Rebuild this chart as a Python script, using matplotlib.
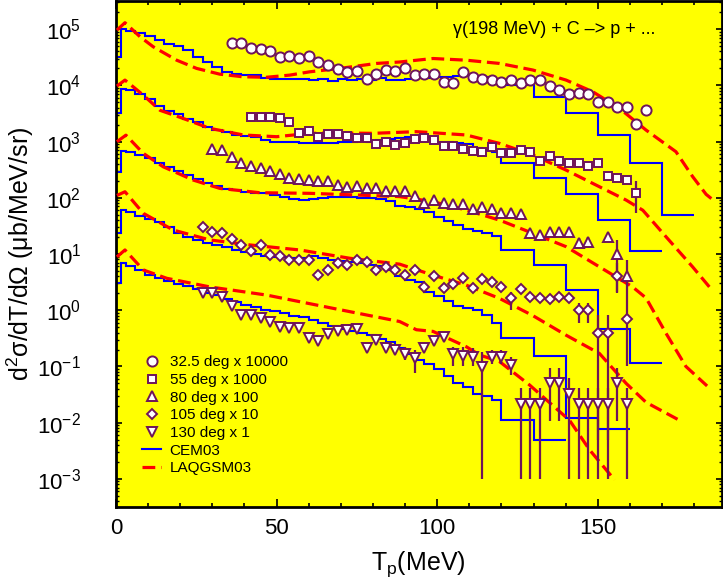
import numpy as np
import matplotlib
matplotlib.use('Agg')
import matplotlib.pyplot as plt
from matplotlib.ticker import MultipleLocator, LogLocator
from matplotlib.lines import Line2D
from matplotlib.legend_handler import HandlerLine2D

# gamma(198 MeV) + C -> p + X, proton spectra at 5 angles
# all numbers below are the unscaled values, scale factors are applied when drawing
angles = ['32.5', '55', '80', '105', '130']
scales = [10000, 1000, 100, 10, 1]

# ---- data points (T in MeV) ----
t_325 = np.arange(36, 166, 3)
y_325 = [5.57, 5.70, 4.66, 4.36, 4.12, 3.22, 3.31, 3.01, 3.31, 2.59,
         2.29, 1.92, 1.74, 1.77, 1.27, 1.58, 1.87, 1.82, 2.00, 1.52,
         1.58, 1.58, 1.16, 1.11, 1.74, 1.38, 1.27, 1.24, 1.16, 1.24,
         1.08, 1.24, 1.24, 0.97, 0.82, 0.69, 0.72, 0.69, 0.51, 0.498,
         0.406, 0.416, 0.205, 0.363]
err_325 = [(162, 0.16, 0.25)]

t_55 = np.arange(42, 163, 3)
y_55 = [2.69, 2.69, 2.69, 2.58, 2.19, 1.40, 1.54, 1.22, 1.34, 1.34,
        1.25, 1.17, 1.18, 0.903, 0.993, 0.867, 0.953, 1.10, 1.14, 1.06,
        0.843, 0.843, 0.726, 0.687, 0.660, 0.810, 0.632, 0.632, 0.706, 0.660,
        0.457, 0.552, 0.457, 0.409, 0.409, 0.367, 0.409, 0.244, 0.222, 0.207,
        0.123]
err_55 = [(153, 0.21, 0.28), (156, 0.19, 0.26), (159, 0.175, 0.245), (162, 0.053, 0.195)]

t_80 = [30, 33, 36, 39, 42, 45, 48, 51, 54, 57, 60, 63, 66, 69, 72, 75, 78, 81,
        84, 87, 90, 93, 96, 99, 102, 105, 108, 111, 114, 117, 120, 123, 126, 129,
        132, 135, 138, 141, 144, 147, 153, 156, 159]
y_80 = [7.26, 7.06, 5.24, 4.21, 3.72, 3.34, 3.03, 2.64, 2.22, 2.13,
        2.07, 2.00, 2.00, 1.69, 1.53, 1.62, 1.47, 1.47, 1.34, 1.34,
        1.31, 1.08, 0.82, 0.91, 0.80, 0.78, 0.78, 0.62, 0.69, 0.62,
        0.53, 0.53, 0.51, 0.233, 0.218, 0.25, 0.25, 0.25, 0.159, 0.166,
        0.203, 0.10, 0.040]
err_80 = [(144, 0.13, 0.19), (147, 0.14, 0.20), (156, 0.020, 0.18), (159, 0.001, 0.079)]

t_105 = np.arange(27, 160, 3)
y_105 = [3.06, 2.49, 2.34, 1.85, 1.45, 1.15, 1.45, 0.96, 0.92, 0.78,
         0.78, 0.78, 0.42, 0.52, 0.68, 0.64, 0.78, 0.73, 0.51, 0.58,
         0.52, 0.42, 0.52, 0.257, 0.407, 0.246, 0.293, 0.37, 0.246, 0.36,
         0.32, 0.257, 0.162, 0.24, 0.174, 0.162, 0.157, 0.174, 0.162, 0.10,
         0.10, 0.040, 0.040, 0.41, 0.071]
err_105 = [(123, 0.10, 0.21), (144, 0.060, 0.133), (147, 0.060, 0.133),
           (150, 0.0005, 0.083), (153, 0.0005, 0.083), (156, 0.21, 0.69)]

t_130 = np.arange(27, 160, 3)
y_130 = [2.05, 2.05, 1.69, 1.19, 0.82, 0.82, 0.72, 0.63, 0.51, 0.48,
         0.48, 0.32, 0.28, 0.38, 0.43, 0.45, 0.46, 0.21, 0.29, 0.21,
         0.20, 0.17, 0.14, 0.21, 0.28, 0.33, 0.167, 0.154, 0.149, 0.098,
         0.15, 0.15, 0.108, 0.0213, 0.0213, 0.0213, 0.0515, 0.0515, 0.032, 0.0213,
         0.0213, 0.0213, 0.0213, 0.0515, 0.0213]
err_130 = [(90, 0.13, 0.22), (93, 0.075, 0.20), (105, 0.10, 0.22), (108, 0.10, 0.22),
           (111, 0.10, 0.21), (114, 0.001, 0.18), (117, 0.11, 0.20), (120, 0.11, 0.20),
           (123, 0.07, 0.15), (126, 0.001, 0.041), (129, 0.001, 0.041), (132, 0.001, 0.041),
           (135, 0.0105, 0.093), (138, 0.0105, 0.093), (141, 0.001, 0.063),
           (144, 0.001, 0.041), (147, 0.001, 0.041), (150, 0.001, 0.041),
           (153, 0.001, 0.041), (156, 0.0105, 0.093), (159, 0.001, 0.041)]

# ---- CEM03 histograms: 1.5 MeV bins, 3 MeV bins up to 120, then 10 MeV bins ----
cem_edges = np.concatenate([[0, 1.5], np.arange(3, 121, 3), np.arange(130, 181, 10)])
cem_325 = [3.2, 10.2, 9.2, 8.5, 7.6, 6.4, 5.5, 5.0, 4.3, 3.2, 2.6, 2.1,
           1.75, 1.6, 1.55, 1.5, 1.35, 1.27, 1.3, 1.28, 1.32, 1.25,
           1.28, 1.2, 1.27, 1.22, 1.3, 1.24, 1.33, 1.25, 1.24, 1.3,
           1.33, 1.36, 1.4, 1.42, 1.46, 1.44, 1.38, 1.42, 1.2,
           1.02, 0.63, 0.316, 0.13, 0.042, 0.0049]
cem_55 = [3.2, 8.5, 8.2, 7.0, 5.8, 4.3, 3.5, 3.1, 2.55, 2.2, 1.8, 1.6,
          1.45, 1.31, 1.25, 1.2, 1.05, 0.99, 1.0, 0.97, 0.94, 0.93,
          0.96, 0.94, 0.99, 1.0, 1.03, 1.0, 1.06, 1.1, 1.18, 1.22,
          1.2, 1.22, 0.99, 0.98, 0.95, 0.9, 0.78, 0.72, 0.66,
          0.409, 0.221, 0.115, 0.041, 0.0113]
cem_80 = [2.91, 6.87, 6.5, 5.8, 5.0, 4.1, 3.5, 3.0, 2.55, 2.2, 1.85, 1.6,
          1.45, 1.37, 1.28, 1.22, 1.2, 1.12, 1.02, 0.96, 0.93, 0.95,
          1.0, 1.05, 1.03, 1.04, 1.0, 0.98, 0.94, 0.88, 0.72, 0.68,
          0.62, 0.55, 0.45, 0.38, 0.33, 0.28, 0.26, 0.24, 0.21,
          0.118, 0.064, 0.0229, 0.0047, 0.00117]
cem_105 = [2.33, 6.06, 5.5, 4.8, 4.2, 3.7, 3.0, 2.4, 2.0, 1.75, 1.58, 1.45,
           1.35, 1.2, 1.08, 1.0, 0.94, 0.9, 0.88, 0.84, 0.86, 0.92,
           0.85, 0.78, 0.76, 0.73, 0.70, 0.65, 0.62, 0.53, 0.40, 0.35,
           0.32, 0.21, 0.18, 0.145, 0.12, 0.11, 0.10, 0.082, 0.06,
           0.0325, 0.0154, 0.0012, 0.00078]
cem_130 = [3.0, 6.8, 6.1, 5.1, 4.2, 3.7, 3.3, 2.9, 2.65, 2.35, 2.05, 1.85,
           1.6, 1.4, 1.25, 1.12, 1.02, 0.95, 0.88, 0.8, 0.75, 0.68,
           0.6, 0.52, 0.46, 0.43, 0.4, 0.36, 0.31, 0.27, 0.21, 0.17,
           0.13, 0.11, 0.09, 0.068, 0.05, 0.043, 0.033, 0.03, 0.025,
           0.0112, 0.0049]

# ---- LAQGSM03 curves ----
lq_t_325 = [0.3, 2.8, 7.5, 11.6, 18.9, 25.1, 32.3, 39.5, 46.8, 54.1, 60.3, 69.7, 81,
            88.3, 98.7, 109, 119.4, 129.8, 140.1, 148.4, 156.7, 165, 174.3, 179.5,
            183.7, 185.5]
lq_325 = [9.6, 13, 7.3, 4.85, 2.8, 2.0, 1.58, 1.42, 1.39, 1.52, 1.74, 2.0, 2.45,
          2.6, 3.0, 2.8, 2.45, 1.87, 1.24, 0.77, 0.39, 0.16, 0.066, 0.0238,
          0.0115, 0.0095]
lq_t_55 = [0.3, 2.8, 8.5, 13.7, 20.9, 29.2, 39.6, 50, 60.3, 70, 80, 93.5, 109,
           119.4, 129.8, 140.1, 150.5, 158.8, 164, 171.2, 179.5, 184.7]
lq_55 = [9.7, 12.4, 6.7, 3.6, 2.58, 1.72, 1.31, 1.22, 1.4, 1.42, 1.4, 1.5, 1.31,
         0.927, 0.576, 0.311, 0.157, 0.091, 0.06, 0.0203, 0.0059, 0.0026]
lq_t_80 = [0.3, 3.1, 8.5, 14.7, 24, 32.3, 44.8, 60.3, 75, 88.3, 98.7, 109, 119.4,
           129.8, 140.1, 150.5, 160.8, 165, 171.2, 177.4, 184]
lq_80 = [9.93, 13, 6.17, 3.56, 2.07, 1.47, 1.23, 1.2, 1.12, 1.05, 0.85, 0.606, 0.40,
         0.233, 0.135, 0.059, 0.026, 0.0165, 0.0039, 0.001, 0.00045]
lq_t_105 = [0.3, 2.8, 8.5, 17.8, 29.2, 41.7, 57.2, 72.8, 88.3, 98.7, 109, 119.4,
            129.8, 140.1, 150.5, 158.8, 165, 174.8]
lq_105 = [11, 12.8, 5.3, 2.67, 1.78, 1.45, 1.18, 0.84, 0.66, 0.42, 0.28, 0.162,
          0.08, 0.036, 0.017, 0.005, 0.0023, 0.00115]
lq_t_130 = [0.3, 2.8, 8.5, 15.8, 29.2, 46.9, 67.6, 88.3, 93.5, 98.7, 109, 113.2,
            119.4, 128.7, 141.2, 147.4, 155.2]
lq_130 = [8.9, 11.8, 5.2, 3.7, 2.6, 1.86, 1.08, 0.63, 0.45, 0.42, 0.225, 0.16,
          0.122, 0.047, 0.011, 0.0033, 0.00096]

points = [(t_325, y_325, err_325), (t_55, y_55, err_55), (t_80, y_80, err_80),
          (t_105, y_105, err_105), (t_130, y_130, err_130)]
cem = [cem_325, cem_55, cem_80, cem_105, cem_130]
laq = [(lq_t_325, lq_325), (lq_t_55, lq_55), (lq_t_80, lq_80),
       (lq_t_105, lq_105), (lq_t_130, lq_130)]

markers = ['o', 's', '^', 'D', 'v']
msizes = [7.3, 6.3, 7.3, 5.0, 7.3]
purple = '#6e145a'
dash = (0, (4, 1.8))

plt.rcParams['font.family'] = ['Liberation Sans', 'DejaVu Sans']
plt.rcParams['mathtext.fontset'] = 'custom'
plt.rcParams['mathtext.rm'] = 'Liberation Sans'
plt.rcParams['mathtext.it'] = 'Liberation Sans:italic'
plt.rcParams['mathtext.sf'] = 'Liberation Sans'

fig = plt.figure(figsize=(7.23, 5.85), dpi=100)
ax = fig.add_axes([0.1604, 0.1333, 0.8376, 0.865])
ax.set_facecolor('#ffff00')

for i in range(5):
    s = scales[i]
    vals = np.array(cem[i]) * s
    ax.stairs(vals, cem_edges[:len(vals) + 1], color='blue', lw=1.5, baseline=None, zorder=2)
    lt, lv = laq[i]
    ax.plot(lt, np.array(lv) * s, color='red', lw=2.3, ls=dash, zorder=3)
    t, y, err = points[i]
    for (et, lo, hi) in err:
        ax.vlines(et, lo * s, hi * s, color=purple, lw=1.6, zorder=4)
    ax.plot(t, np.array(y) * s, ls='none', marker=markers[i], ms=msizes[i],
            mfc='white', mec=purple, mew=1.4, zorder=5)

ax.set_yscale('log')
ax.set_xlim(0, 188.5)
ax.set_ylim(10 ** -3.5, 10 ** 5.5)
ax.xaxis.set_major_locator(MultipleLocator(50))
ax.xaxis.set_minor_locator(MultipleLocator(10))
ax.set_yticks([10.0 ** k for k in range(-3, 6)])
ax.yaxis.set_minor_locator(LogLocator(base=10, subs=np.arange(2, 10), numticks=20))
ax.tick_params(which='both', direction='in', top=True, right=True)
ax.tick_params(axis='x', which='major', length=6, width=1.2, labelsize=16, pad=8)
ax.tick_params(axis='x', which='minor', length=3, width=1.2)
ax.tick_params(axis='y', which='major', length=4, width=1.2, labelsize=16, pad=25)
ax.tick_params(axis='y', which='minor', length=2, width=1)
for sp in ax.spines.values():
    sp.set_linewidth(2)

ax.set_xlabel(r'T$_\mathrm{p}$(MeV)', fontsize=18, labelpad=7)
ax.set_ylabel(r'd$^2$σ/dT/dΩ (μb/MeV/sr)', fontsize=18, labelpad=1)

ax.text(0.723, 0.943, 'γ(198 MeV) + C \u2013> p + ...', transform=ax.transAxes,
        ha='center', va='center', fontsize=13)


# legend: markers sit at the right end of the handle, like the original
class MarkerAtEnd(HandlerLine2D):
    def get_xdata(self, legend, xdescent, ydescent, width, height, fontsize):
        xdata, _ = super().get_xdata(legend, xdescent, ydescent, width, height, fontsize)
        return xdata, np.array([-xdescent + width - 0.3 * fontsize])


handles = []
labels = []
hmap = {}
for i in range(5):
    h = Line2D([], [], ls='none', marker=markers[i], ms=msizes[i], mfc='white',
               mec=purple, mew=1.4)
    handles.append(h)
    labels.append('%s deg x %d' % (angles[i], scales[i]))
    hmap[h] = MarkerAtEnd(numpoints=1)
handles.append(Line2D([], [], color='blue', lw=1.5))
labels.append('CEM03')
handles.append(Line2D([], [], color='red', lw=2.3, ls=dash))
labels.append('LAQGSM03')
ax.legend(handles, labels, handler_map=hmap, loc='upper left', bbox_to_anchor=(0.043, 0.30),
          frameon=False, borderpad=0, borderaxespad=0, handlelength=1.25,
          handletextpad=0.55, labelspacing=0.24, fontsize=11)

fig.savefig('out.png', dpi=100)
